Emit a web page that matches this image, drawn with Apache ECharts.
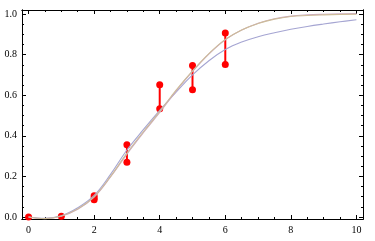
<!DOCTYPE html>
<html>
<head>
<meta charset="utf-8">
<style>html,body{margin:0;padding:0;background:#fff}#c{width:375px;height:241px}</style>
<script src="https://cdn.jsdelivr.net/npm/echarts@6/dist/echarts.min.js"></script>
</head>
<body>
<div id="c"></div>
<script>
const curveX = [0,0.5,1,1.5,2,2.5,3,3.5,4,4.5,5,5.5,6,6.5,7,7.5,8,8.5,9,9.5,10];
const curveTan  = [0,-0.008,0.005,0.040,0.100,0.200,0.315,0.420,0.520,0.625,0.720,0.805,0.875,0.922,0.953,0.975,0.988,0.993,0.996,0.998,0.999];
const curvePink = [0,-0.008,0.004,0.038,0.098,0.197,0.310,0.415,0.515,0.620,0.717,0.803,0.873,0.921,0.955,0.977,0.990,0.996,0.999,1.001,1.002];
const curveBlue = [0,-0.006,0.006,0.045,0.106,0.210,0.330,0.430,0.525,0.615,0.700,0.770,0.825,0.862,0.888,0.908,0.925,0.939,0.951,0.962,0.972];
const pointX = [0,1,2,2,2,3,3,4,4,5,5,6,6];
const pointY = [0,0.004,0.085,0.094,0.104,0.270,0.356,0.533,0.652,0.627,0.747,0.751,0.907];
const barX  = [2,3,4,5,6];
const barLo = [0.085,0.270,0.533,0.627,0.751];
const barHi = [0.104,0.356,0.652,0.747,0.907];
const xMajor = [0,2,4,6,8,10];
const xMinor = [0,0.5,1,1.5,2,2.5,3,3.5,4,4.5,5,5.5,6,6.5,7,7.5,8,8.5,9,9.5,10];
const yMajor = [0,0.2,0.4,0.6,0.8,1.0];
const yMinor = [0,0.05,0.1,0.15,0.2,0.25,0.3,0.35,0.4,0.45,0.5,0.55,0.6,0.65,0.7,0.75,0.8,0.85,0.9,0.95,1.0];

const font = {fontFamily:'Liberation Serif', fontSize:10, color:'#000'};
function xAx(pos, ticks, len, labels) {
  return {type:'value', min:-0.2, max:10.2, position:pos,
    axisLine:{show:true, onZero:false, lineStyle:{color:'#000', width:1}},
    axisTick:{show:true, inside:true, length:len, customValues:ticks, lineStyle:{color:'#000', width:1}},
    axisLabel:labels ? Object.assign({show:true, customValues:xMajor, margin:6, formatter:v=>String(v)}, font) : {show:false},
    splitLine:{show:false}};
}
function yAx(pos, ticks, len, labels) {
  return {type:'value', min:-0.01, max:1.02, position:pos,
    axisLine:{show:true, onZero:false, lineStyle:{color:'#000', width:1}},
    axisTick:{show:true, inside:true, length:len, customValues:ticks, lineStyle:{color:'#000', width:1}},
    axisLabel:labels ? Object.assign({show:true, customValues:yMajor, margin:5, formatter:v=>v.toFixed(1)}, font) : {show:false},
    splitLine:{show:false}};
}
const chart = echarts.init(document.getElementById('c'), null, {renderer:'canvas'});
const zip = (xs, ys) => xs.map((x,i)=>[x, ys[i]]);
chart.setOption({
  animation:false,
  grid:{left:22, right:12, top:10, bottom:22, containLabel:false},
  xAxis:[xAx('bottom', xMajor, 4, true), xAx('bottom', xMinor, 2, false), xAx('top', xMajor, 4, false), xAx('top', xMinor, 2, false)],
  yAxis:[yAx('left', yMajor, 4, true), yAx('left', yMinor, 2, false), yAx('right', yMajor, 4, false), yAx('right', yMinor, 2, false)],
  series:[
    {type:'line', data:zip(curveX, curveBlue), smooth:0.4, symbol:'none', lineStyle:{color:'#a5a5d2', width:1.1}},
    {type:'line', data:zip(curveX, curvePink), smooth:0.4, symbol:'none', lineStyle:{color:'#cba9bf', width:1.1}},
    {type:'line', data:zip(curveX, curveTan), smooth:0.4, symbol:'none', lineStyle:{color:'#cdbc9a', width:1.1}},
    {type:'custom', data:barX.map((x,i)=>[x, barLo[i], barHi[i]]),
      renderItem:(params, api)=>{
        const a = api.coord([api.value(0), api.value(1)]);
        const b = api.coord([api.value(0), api.value(2)]);
        return {type:'line', shape:{x1:a[0], y1:a[1], x2:b[0], y2:b[1]}, style:{stroke:'#f00', lineWidth:2}};
      }},
    {type:'scatter', data:zip(pointX, pointY), symbol:'circle', symbolSize:7, itemStyle:{color:'#f00', opacity:1}}
  ]
});
</script>
</body>
</html>
